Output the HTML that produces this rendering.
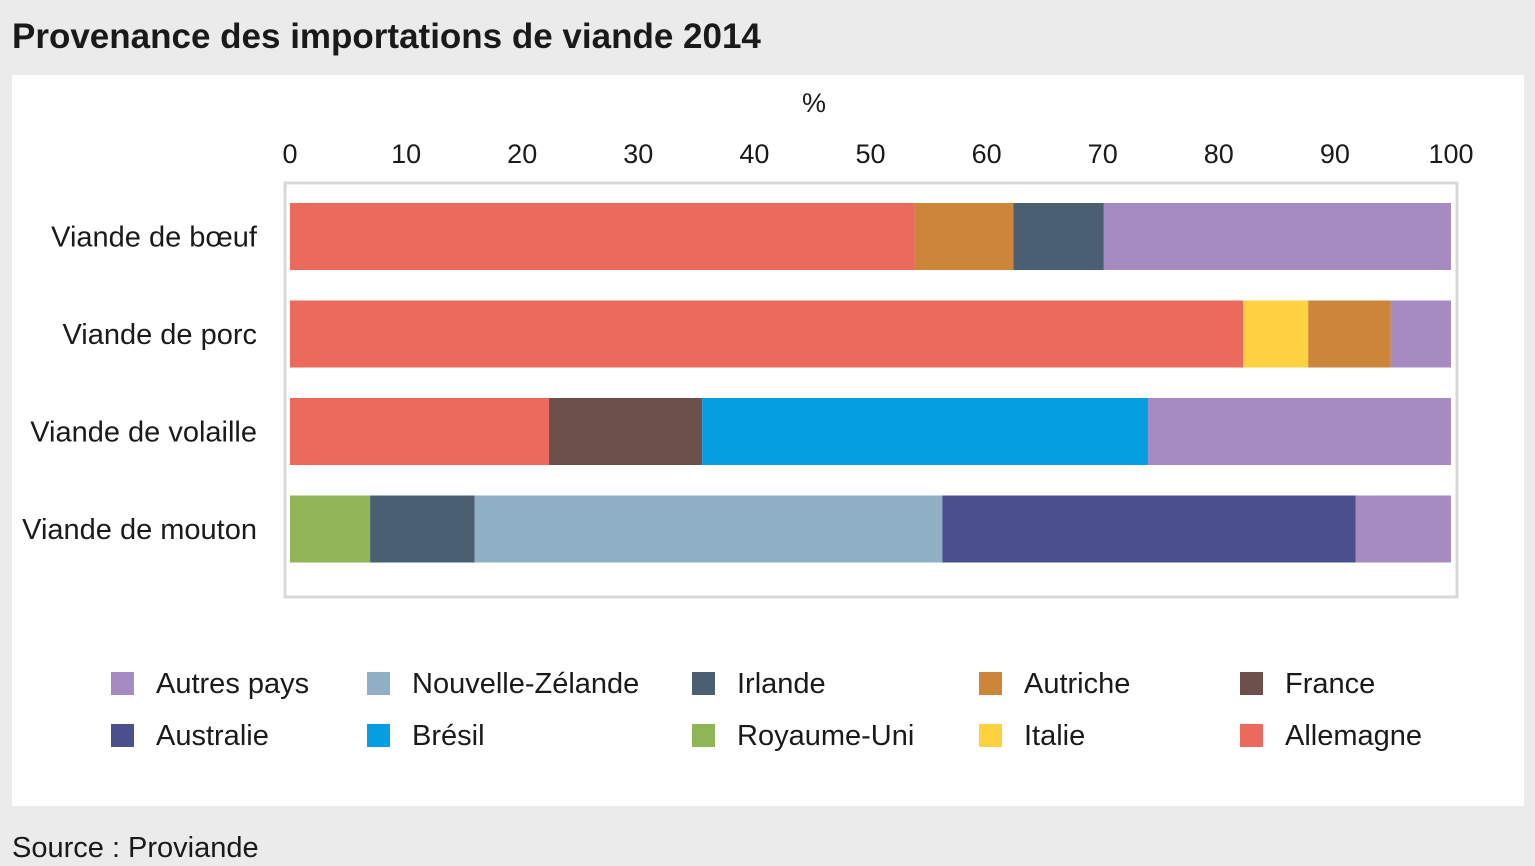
<!DOCTYPE html>
<html><head><meta charset="utf-8"><style>
html,body{margin:0;padding:0;background:#ebebeb;}
svg{display:block;font-family:"Liberation Sans Narrow","Liberation Sans",sans-serif;}
</style></head><body>
<svg id="chart" width="1535" height="866" viewBox="0 0 1535 866">
<rect x="0" y="0" width="1535" height="866" fill="#ebebeb"/>
<text x="12" y="48" font-size="35" font-weight="bold" fill="#1a1a1a">Provenance des importations de viande 2014</text>
<rect x="12" y="75" width="1512" height="731" fill="#ffffff"/>
<rect x="285" y="183" width="1172" height="414" fill="none" stroke="#d8d8d8" stroke-width="3"/>
<text x="814" y="112" font-size="27" text-anchor="middle" fill="#1a1a1a">%</text>
<g id="ticks"></g><g id="bars"></g><g id="cats"></g><g id="legend"></g>
<text x="12" y="857" font-size="29" fill="#1a1a1a">Source : Proviande</text>
</svg>
<script>
const categories = ["Viande de bœuf","Viande de porc","Viande de volaille","Viande de mouton"];
const tickValues = [0,10,20,30,40,50,60,70,80,90,100];
const seriesNames = ["Allemagne","Royaume-Uni","Italie","Autriche","Irlande","France","Nouvelle-Zélande","Brésil","Australie","Autres pays"];
const allemagne = [53.8,82.1,22.3,0];
const royaumeUni = [0,0,0,6.9];
const italie = [0,5.6,0,0];
const autriche = [8.5,7.1,0,0];
const irlande = [7.8,0,0,9.0];
const france = [0,0,13.2,0];
const nouvelleZelande = [0,0,0,40.3];
const bresil = [0,0,38.4,0];
const australie = [0,0,0,35.6];
const autres = [29.9,5.2,26.1,8.2];
const colors = {"Allemagne":"#ec6a5c","Royaume-Uni":"#8fb556","Autriche":"#cd853a","Italie":"#fdd140","Irlande":"#4a6072","France":"#6d4f4b","Nouvelle-Zélande":"#8fb0c4","Brésil":"#049fe0","Australie":"#4b4f8c","Autres pays":"#a68bc2"};
const series = [allemagne,royaumeUni,italie,autriche,irlande,france,nouvelleZelande,bresil,australie,autres];
const legendOrder = [["Autres pays","Nouvelle-Zélande","Irlande","Autriche","France"],["Australie","Brésil","Royaume-Uni","Italie","Allemagne"]];
const NS="http://www.w3.org/2000/svg";
const x = v => 290 + v*11.61;
const yBand = i => 203 + i*97.5;
const bh = 67;
function mk(tag, attrs, parent){const e=document.createElementNS(NS,tag);for(const k in attrs)e.setAttribute(k,attrs[k]);parent.appendChild(e);return e;}
const tg=document.getElementById('ticks');
tickValues.forEach(t=>{const e=mk('text',{x:x(t),y:163,'font-size':27,'text-anchor':'middle',fill:'#1a1a1a'},tg);e.textContent=t;

});
const bg=document.getElementById('bars');
categories.forEach((c,i)=>{let acc=0;series.forEach((s,j)=>{const v=s[i];if(v>0){const r=mk('rect',{x:x(acc),y:yBand(i),width:x(acc+v)-x(acc),height:bh,fill:colors[seriesNames[j]]},bg);

}acc+=v;});
const t=mk('text',{x:257,y:yBand(i)+bh/2+10,'font-size':29,'text-anchor':'end',fill:'#1a1a1a'},document.getElementById('cats'));t.textContent=c;

});
const lg=document.getElementById('legend');const colX=[111,367,692,979,1240];
legendOrder.forEach((row,r)=>row.forEach((n,c)=>{const y0=672+r*52;
const s=mk('rect',{x:colX[c],y:y0,width:23,height:23,fill:colors[n]},lg);


const t=mk('text',{x:colX[c]+45,y:y0+21,'font-size':29,fill:'#1a1a1a'},lg);t.textContent=n;

}));
</script>
</body></html>
